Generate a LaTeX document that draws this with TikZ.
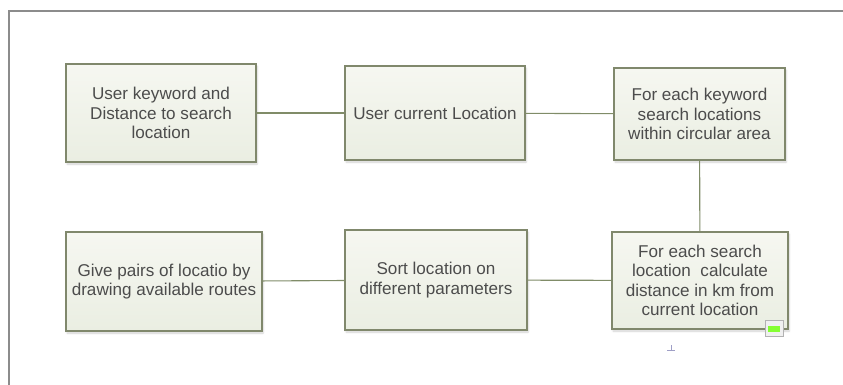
\documentclass[tikz,border=0pt]{standalone}
\usepackage{fontspec}
\setmainfont{Liberation Sans}
\usetikzlibrary{shadows.blur}

\definecolor{boxline}{RGB}{128,136,108}
\definecolor{boxtop}{RGB}{246,247,241}
\definecolor{boxbot}{RGB}{234,238,226}
\definecolor{linkline}{RGB}{128,140,104}
\definecolor{txt}{RGB}{76,76,76}
\definecolor{frame}{RGB}{140,140,140}

\tikzset{
  stepbox/.style={draw=boxline, line width=1.2pt, top color=boxtop, bottom color=boxbot,
    text=txt, align=center, inner sep=0pt,
    font=\fontsize{17.1}{19.5}\selectfont,
    blur shadow={shadow xshift=1pt, shadow yshift=-2pt, shadow blur steps=6, shadow opacity=18}},
  link/.style={draw=linkline, line width=1.1pt}
}

\begin{document}
\begin{tikzpicture}[x=1pt, y=-1pt]
\useasboundingbox (0,0) rectangle (843,385);

% Frame
\draw[frame, line width=1.8pt] (9,385) -- (9,11) -- (843,11);

% Top row
\node[stepbox, minimum width=190pt, minimum height=98pt] (keyword) at (161,113)
  {User keyword and\\Distance to search\\location};
\node[stepbox, minimum width=180pt, minimum height=94pt] (current) at (435,113)
  {User current Location};
\node[stepbox, minimum width=171pt, minimum height=92pt] (search) at (699.5,114)
  {For each keyword\\search locations\\within circular area};

% Bottom row
\node[stepbox, minimum width=176pt, minimum height=97pt] (distance) at (700,280.5)
  {For each search\\location\ \ calculate\\distance in km from\\current location};
\node[stepbox, minimum width=182pt, minimum height=100pt] (sort) at (436,280)
  {Sort location on\\different parameters};
\node[stepbox, minimum width=196pt, minimum height=99pt] (pairs) at (164,281.5)
  {Give pairs of locatio by\\drawing available routes};

% Links
\draw[link] (keyword) -- (current);
\draw[link] (current) -- (search);
\draw[link] (search) -- (distance);
\draw[link] (distance) -- (sort);
\draw[link] (sort) -- (pairs);

% Small marks
\node[draw=gray!60, fill=gray!12, minimum width=18pt, minimum height=16pt, inner sep=0pt] (icon) at (774,328.5) {};
\fill[green!60!yellow!80!white] (768,325.5) rectangle (780,331.5);
\draw[blue!25!gray!60, line width=0.8pt] (667,350) -- (675,350) (671,350) -- (671,345);
\end{tikzpicture}
\end{document}
